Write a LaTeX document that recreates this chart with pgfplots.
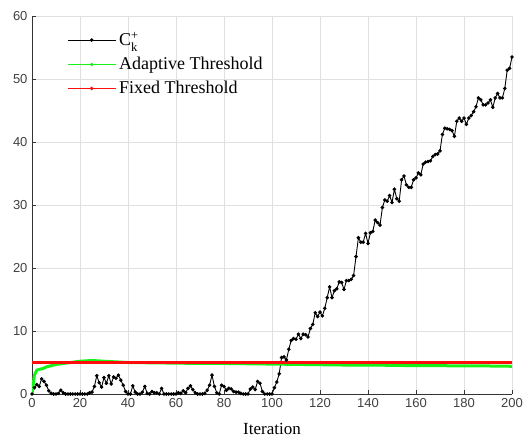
\documentclass[border=0pt]{standalone}
\usepackage{pgfplots}
\pgfplotsset{compat=1.18}
\usepackage{amsmath}
\usepackage{fontspec}
\setmainfont{Liberation Serif}
\newfontfamily\ticksf{Liberation Sans}
\definecolor{gridc}{gray}{0.88}
\definecolor{axc}{gray}{0.2}
\definecolor{mgreen}{rgb}{0.1,0.95,0.1}
\definecolor{mred}{rgb}{1,0.05,0.05}
\begin{document}
\begin{tikzpicture}
\path[use as bounding box] (-32pt,-46pt) rectangle (492pt,394pt);
\begin{axis}[
  scale only axis, width=480pt, height=378pt,
  xmin=0, xmax=200, ymin=0, ymax=60,
  xtick={0,20,...,200}, ytick={0,10,...,60},
  axis x line=bottom, axis y line=left,
  axis line style={axc, -, line width=0.6pt},
  tick align=inside, major tick length=4pt,
  tick style={axc, line width=0.6pt},
  grid=major, major grid style={gridc, line width=0.6pt},
  /pgf/number format/assume math mode=true,
  ticklabel style={font=\ticksf\fontsize{13pt}{15pt}\selectfont, text=black!75},
  xticklabel style={yshift=-1pt},
  yticklabel style={xshift=-1pt},
  xlabel={Iteration},
  xlabel style={font=\fontsize{17pt}{19pt}\selectfont, at={(axis description cs:0.5,0)}, anchor=north, inner sep=0pt, yshift=-29pt},
  legend cell align=left,
  legend style={at={(axis description cs:0.073,0.962)}, anchor=north west, draw=none, fill=none,
    font=\fontsize{18pt}{20pt}\selectfont, row sep=6pt, inner sep=0pt,
    nodes={inner xsep=3pt}},
  legend image code/.code={\draw[mark repeat=2,mark phase=2] plot coordinates {(0pt,0pt) (24pt,0pt) (48pt,0pt)};},
]
\addplot[black, line width=0.9pt, mark=*, mark size=1.3pt] coordinates {
(0,0) (1,1.0) (2,1.5) (3,1.2) (4,2.4) (5,2.0) (6,1.4) (7,0.5) (8,0.1) (9,0) (10,0)
(11,0.1) (12,0.6) (13,0.2) (14,0) (15,0) (16,0) (17,0) (18,0) (19,0) (20,0)
(21,0) (22,0) (23,0) (24,0.2) (25,0.3) (26,1.2) (27,2.9) (28,1.8) (29,1.1) (30,2.6)
(31,1.7) (32,2.9) (33,1.6) (34,2.7) (35,2.5) (36,3.0) (37,2.2) (38,1.4) (39,0.4) (40,0)
(41,0) (42,1.3) (43,0.3) (44,0) (45,0) (46,0.3) (47,1.2) (48,0.1) (49,0) (50,0.4)
(51,0.2) (52,0.2) (53,0) (54,0.9) (55,0) (56,0) (57,0) (58,0) (59,0) (60,0)
(61,0.2) (62,0.1) (63,0.5) (64,0.2) (65,0.9) (66,1.3) (67,0.7) (68,0.2) (69,0) (70,0)
(71,0) (72,0.1) (73,0.6) (74,1.4) (75,3.0) (76,1.2) (77,0.2) (78,0) (79,1.4) (80,1.2)
(81,0.6) (82,0.9) (83,0.8) (84,0.4) (85,0.3) (86,0.3) (87,0.1) (88,0) (89,0) (90,0)
(91,0.8) (92,1.1) (93,0.7) (94,2.0) (95,1.7) (96,0.4) (97,0) (98,0) (99,0) (100,0)
(101,1.0) (102,1.9) (103,3.2) (104,5.8) (105,5.9) (106,5.4) (107,7.1) (108,8.5) (109,8.8) (110,8.7)
(111,9.5) (112,8.8) (113,9.5) (114,9.4) (115,9.05) (116,10.4) (117,11.05) (118,12.9) (119,12.3) (120,13.0)
(121,12.4) (122,13.6) (123,15.3) (124,17.0) (125,15.3) (126,16.4) (127,16.7) (128,17.8) (129,17.7) (130,16.6)
(131,18.0) (132,18.0) (133,18.2) (134,18.8) (135,21.8) (136,24.8) (137,24.1) (138,24.1) (139,25.5) (140,23.9)
(141,25.6) (142,25.8) (143,27.6) (144,27.2) (145,26.8) (146,29.6) (147,30.8) (148,30.6) (149,31.5) (150,30.4)
(151,32.5) (152,31.0) (153,30.6) (154,34.0) (155,34.6) (156,33.2) (157,32.8) (158,32.8) (159,34.0) (160,34.3)
(161,35.1) (162,34.8) (163,36.5) (164,36.8) (165,36.9) (166,37.0) (167,37.7) (168,38.0) (169,38.1) (170,38.6)
(171,41.2) (172,42.2) (173,42.1) (174,42.0) (175,41.8) (176,40.9) (177,43.3) (178,43.8) (179,43.3) (180,43.8)
(181,42.8) (182,43.8) (183,44.2) (184,44.8) (185,45.6) (186,47.0) (187,46.7) (188,45.9) (189,45.9) (190,46.2)
(191,46.7) (192,45.5) (193,47.0) (194,47.7) (195,47.0) (196,47.0) (197,48.5) (198,51.4) (199,51.7) (200,53.5)
};
\addlegendentry{C$^{\text{+}}_{\text{k}}$}
\addplot[mgreen, line width=3pt, forget plot] coordinates {
(0,0) (1,3.0) (2,3.8) (3,3.9) (4,4.0) (5,4.1) (6,4.3) (7,4.4) (8,4.5) (9,4.6) (10,4.7)
(11,4.75) (12,4.8) (13,4.85) (14,4.9) (15,4.95) (16,5.0) (17,5.05) (18,5.1) (19,5.15) (20,5.2)
(22,5.25) (24,5.3) (26,5.3) (28,5.25) (30,5.2) (35,5.1) (40,5.0) (50,4.95) (60,4.9) (70,4.85)
(80,4.85) (90,4.8) (100,4.75) (110,4.7) (120,4.65) (130,4.6) (140,4.6) (150,4.55) (160,4.5)
(170,4.5) (180,4.45) (190,4.45) (200,4.4)
};
\addlegendimage{mgreen, line width=0.8pt, mark=*, mark size=1.3pt}
\addlegendentry{Adaptive Threshold}
\addplot[mred, line width=3.5pt, forget plot] coordinates {(0,5) (200,5)};
\addlegendimage{mred, line width=0.9pt, mark=*, mark size=1.3pt}
\addlegendentry{Fixed Threshold}
\end{axis}
\end{tikzpicture}
\end{document}
